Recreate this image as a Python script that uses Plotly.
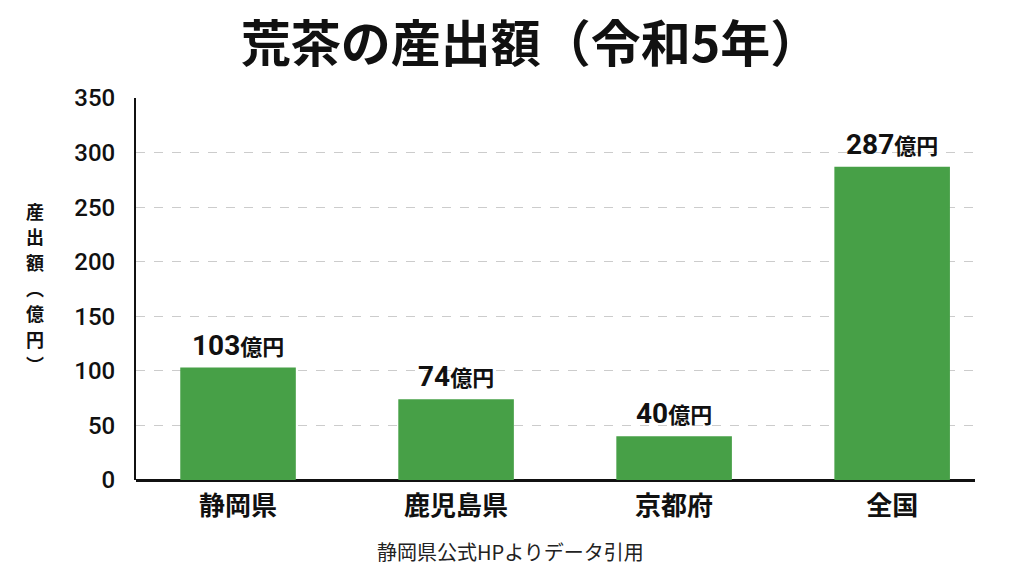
import plotly.graph_objects as go

categories = ["静岡県", "鹿児島県", "京都府", "全国"]
values = [103, 74, 40, 287]
unit = "億円"
title_text = "荒茶の産出額（令和5年）"
ytitle_chars = ["産", "出", "額", "︵", "億", "円", "︶"]
source = "静岡県公式HPよりデータ引用"
tick_vals = [0, 50, 100, 150, 200, 250, 300, 350]

font_jp = "Noto Sans CJK JP"

fig = go.Figure()
fig.add_trace(go.Bar(
    x=list(range(len(categories))), y=values,
    marker=dict(color="#47a047", line=dict(width=0)),
    width=0.53,
    hoverinfo="skip",
))

for i, v in enumerate(values):
    fig.add_annotation(
        x=i, y=v, xref="x", yref="y", yanchor="bottom", xanchor="center",
        yshift=4, showarrow=False,
        text=(f"<span style='font-family:Roboto;font-size:28px;font-weight:bold'>{v}</span>"
              f"<span style='font-size:22px;font-weight:bold'>{unit}</span>"),
        font=dict(family=font_jp, size=22, color="#111"),
    )

fig.update_layout(
    width=1024, height=576,
    margin=dict(l=136, r=49, t=98, b=96),
    paper_bgcolor="white", plot_bgcolor="white",
    showlegend=False,
    title=dict(text=f"<b>{title_text}</b>", x=0.518, xanchor="center", y=0.922, yanchor="middle",
               font=dict(family=font_jp, size=50, color="#111")),
)
fig.update_xaxes(
    tickmode="array", tickvals=list(range(len(categories))),
    ticktext=[f"<b>{c}</b>" for c in categories],
    tickfont=dict(family=font_jp, size=26, color="#111"),
    range=[-0.468, 3.38], showline=False, showgrid=False, ticks="", zeroline=False,
    ticklabelstandoff=8,
)
fig.update_yaxes(
    range=[0, 350], tickvals=tick_vals,
    tickfont=dict(family="Roboto", size=24, color="#111", weight=500),
    showgrid=True, gridcolor="#cccccc", griddash="dash", gridwidth=1,
    showline=True, linecolor="#111", linewidth=2,
    zeroline=True, zerolinecolor="#111", zerolinewidth=2.5,
    ticks="", ticklabelstandoff=14,
)

# vertical y-axis title, one character per line
top_px, step_px, plot_top, plot_h = 211, 25.5, 98, 382
for k, ch in enumerate(ytitle_chars):
    ypx = top_px + k * step_px
    fig.add_annotation(
        text=f"<b>{ch}</b>", xref="paper", yref="paper",
        x=-0.12, y=1 - (ypx - plot_top) / plot_h, xanchor="center", yanchor="middle",
        showarrow=False, font=dict(family=font_jp, size=18, color="#111"),
    )

fig.add_annotation(
    text=source, xref="paper", yref="paper",
    x=(510 - 136) / 839, y=(480 - 551) / 382, xanchor="center", yanchor="middle", showarrow=False,
    font=dict(family=font_jp, size=20, color="#222"),
)

fig.write_html("out.html")
